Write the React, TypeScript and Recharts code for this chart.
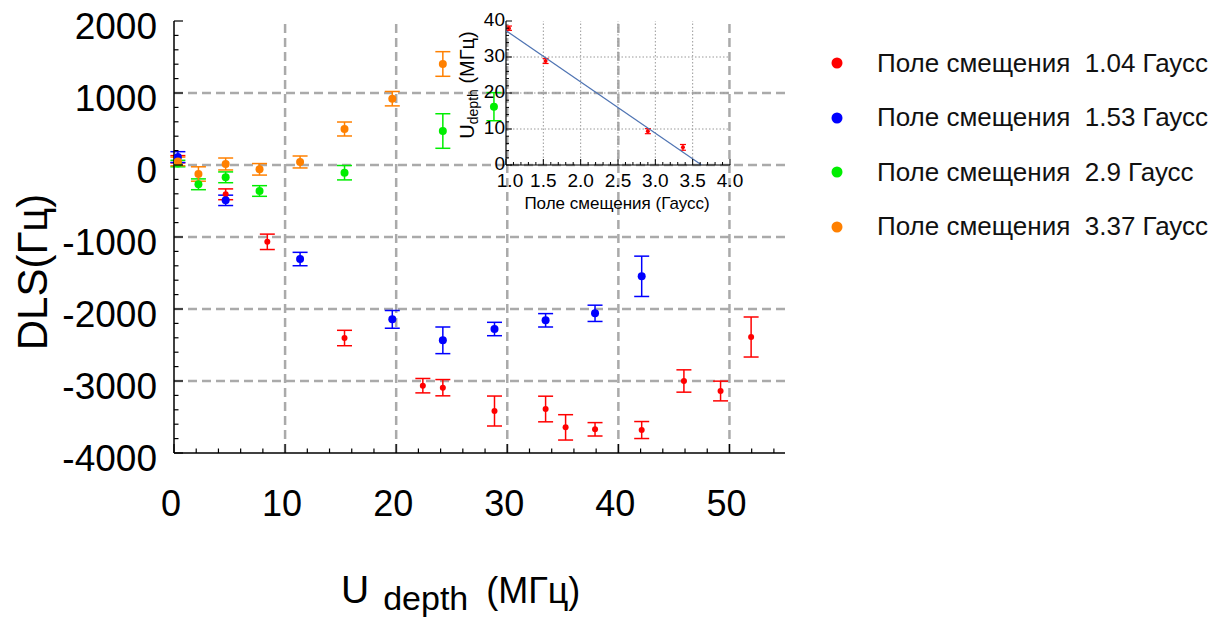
import React from "react";
import { ScatterChart, Scatter, XAxis, YAxis, ErrorBar, ReferenceLine, Legend, Label } from "recharts";

// series: x = U_depth (MHz), y = DLS (Hz), e = error
const red = [
  { x: 0.35, y: 80, e: 50 },
  { x: 4.65, y: -407, e: 75 },
  { x: 8.4, y: -1067, e: 107 },
  { x: 15.35, y: -2403, e: 107 },
  { x: 22.4, y: -3065, e: 100 },
  { x: 24.2, y: -3093, e: 113 },
  { x: 28.85, y: -3417, e: 208 },
  { x: 33.45, y: -3389, e: 178 },
  { x: 35.25, y: -3644, e: 176 },
  { x: 37.9, y: -3671, e: 93 },
  { x: 42.1, y: -3681, e: 118 },
  { x: 45.9, y: -3000, e: 155 },
  { x: 49.2, y: -3139, e: 137 },
  { x: 51.95, y: -2389, e: 278 },
];
const blue = [
  { x: 0.35, y: 110, e: 75 },
  { x: 4.65, y: -491, e: 72 },
  { x: 11.35, y: -1306, e: 93 },
  { x: 19.65, y: -2144, e: 123 },
  { x: 24.2, y: -2435, e: 185 },
  { x: 28.85, y: -2278, e: 93 },
  { x: 33.45, y: -2157, e: 93 },
  { x: 37.9, y: -2060, e: 113 },
  { x: 42.1, y: -1546, e: 280 },
];
const green = [
  { x: 0.35, y: 20, e: 45 },
  { x: 2.2, y: -268, e: 75 },
  { x: 4.65, y: -171, e: 75 },
  { x: 7.7, y: -361, e: 74 },
  { x: 15.35, y: -107, e: 100 },
  { x: 24.2, y: 472, e: 240 },
  { x: 28.8, y: 810, e: 195 },
];
const orange = [
  { x: 0.35, y: 50, e: 60 },
  { x: 2.2, y: -125, e: 100 },
  { x: 4.65, y: 14, e: 83 },
  { x: 7.7, y: -60, e: 80 },
  { x: 11.35, y: 42, e: 83 },
  { x: 15.35, y: 500, e: 97 },
  { x: 19.65, y: 921, e: 100 },
  { x: 24.2, y: 1403, e: 171 },
];

const seriesNames = [
  "Поле смещения  1.04 Гаусс",
  "Поле смещения  1.53 Гаусс",
  "Поле смещения  2.9 Гаусс",
  "Поле смещения  3.37 Гаусс",
];
const seriesColors = ["#ff0000", "#0000ff", "#00ee00", "#ff8000"];
const seriesData = [red, blue, green, orange];
const dotRadius = [3, 4, 4, 4];

const xMajor = [0, 10, 20, 30, 40, 50];
const xTicks = [0, 2, 4, 6, 8, 10, 12, 14, 16, 18, 20, 22, 24, 26, 28, 30, 32, 34, 36, 38, 40, 42, 44, 46, 48, 50, 52, 54];
const yMajor = [-4000, -3000, -2000, -1000, 0, 1000, 2000];
const yTicks = [
  -4000, -3800, -3600, -3400, -3200, -3000, -2800, -2600, -2400, -2200, -2000, -1800, -1600, -1400, -1200,
  -1000, -800, -600, -400, -200, 0, 200, 400, 600, 800, 1000, 1200, 1400, 1600, 1800, 2000,
];
const xGrid = [10, 20, 30, 40, 50];
const yGrid = [-3000, -2000, -1000, 0, 1000];

// inset: bias field (G) vs U_depth (MHz)
const insetPoints = [
  { x: 1.04, y: 38.0, e: 0.6 },
  { x: 1.53, y: 28.9, e: 0.7 },
  { x: 2.9, y: 9.4, e: 0.7 },
  { x: 3.37, y: 4.9, e: 0.8 },
];
const insetFit = [
  { x: 1.0, y: 37.3 },
  { x: 3.62, y: 0 },
];
const insetXMajor = [1.0, 1.5, 2.0, 2.5, 3.0, 3.5, 4.0];
const insetXTicks = [
  1.0, 1.1, 1.2, 1.3, 1.4, 1.5, 1.6, 1.7, 1.8, 1.9, 2.0, 2.1, 2.2, 2.3, 2.4, 2.5, 2.6, 2.7, 2.8, 2.9, 3.0,
  3.1, 3.2, 3.3, 3.4, 3.5, 3.6, 3.7, 3.8, 3.9, 4.0,
];
const insetYMajor = [0, 10, 20, 30, 40];
const insetYTicks = [0, 2, 4, 6, 8, 10, 12, 14, 16, 18, 20, 22, 24, 26, 28, 30, 32, 34, 36, 38, 40];
const insetXGrid = [1.5, 2.0, 2.5, 3.0, 3.5];
const insetYGrid = [10, 20, 30];

const FONT = "'Liberation Sans', Arial, sans-serif";
const isIn = (arr: number[], v: number) => arr.some((a) => Math.abs(a - v) < 1e-6);

const BottomTick = (p: any) => {
  const v = p.payload.value;
  const major = isIn(xMajor, v);
  return (
    <g>
      <line x1={p.x} y1={p.y} x2={p.x} y2={p.y - (major ? 9 : 4.5)} stroke="#000" strokeWidth={1.2} />
      {major && (
        <text x={p.x - 3} y={p.y + 63} textAnchor="middle" fontSize={36} fill="#000" fontFamily={FONT}>
          {v}
        </text>
      )}
    </g>
  );
};
const TopTick = (p: any) => {
  const major = isIn(xMajor, p.payload.value);
  return <line x1={p.x} y1={p.y} x2={p.x} y2={p.y + (major ? 9 : 4.5)} stroke="#000" strokeWidth={1.2} />;
};
const LeftTick = (p: any) => {
  const v = p.payload.value;
  const major = isIn(yMajor, v);
  return (
    <g>
      <line x1={p.x} y1={p.y} x2={p.x + (major ? 9 : 4.5)} y2={p.y} stroke="#000" strokeWidth={1.2} />
      {major && (
        <text x={p.x - 17} y={p.y + 18} textAnchor="end" fontSize={37} fill="#000" fontFamily={FONT}>
          {v}
        </text>
      )}
    </g>
  );
};
const RightTick = (p: any) => {
  const major = isIn(yMajor, p.payload.value);
  return <line x1={p.x} y1={p.y} x2={p.x - (major ? 9 : 4.5)} y2={p.y} stroke="#000" strokeWidth={1.2} />;
};

const InsetBottomTick = (p: any) => {
  const v = p.payload.value;
  const major = isIn(insetXMajor, v);
  return (
    <g>
      <line x1={p.x} y1={p.y} x2={p.x} y2={p.y - (major ? 6 : 3)} stroke="#000" strokeWidth={1} />
      {major && (
        <text x={p.x + (v === 1 ? 4 : 0)} y={p.y + 22} textAnchor="middle" fontSize={19} fill="#000" fontFamily={FONT}>
          {v.toFixed(1)}
        </text>
      )}
    </g>
  );
};
const InsetTopTick = (p: any) => {
  const major = isIn(insetXMajor, p.payload.value);
  return <line x1={p.x} y1={p.y} x2={p.x} y2={p.y + (major ? 6 : 3)} stroke="#000" strokeWidth={1} />;
};
const InsetLeftTick = (p: any) => {
  const v = p.payload.value;
  const major = isIn(insetYMajor, v);
  return (
    <g>
      <line x1={p.x} y1={p.y} x2={p.x + (major ? 6 : 3)} y2={p.y} stroke="#000" strokeWidth={1} />
      {major && (
        <text x={p.x - 1} y={p.y + 5} textAnchor="end" fontSize={19} fill="#000" fontFamily={FONT}>
          {v}
        </text>
      )}
    </g>
  );
};
const InsetRightTick = (p: any) => {
  const major = isIn(insetYMajor, p.payload.value);
  return <line x1={p.x} y1={p.y} x2={p.x - (major ? 6 : 3)} y2={p.y} stroke="#000" strokeWidth={1} />;
};

const LegendBox = () => (
  <div style={{ fontFamily: FONT, fontSize: 26, color: "#111" }}>
    {seriesNames.map((name, i) => (
      <div key={name} style={{ height: 54.5, display: "flex", alignItems: "center", whiteSpace: "pre" }}>
        <svg width={51} height={14}>
          <circle cx={11} cy={7} r={5.5} fill={seriesColors[i]} />
        </svg>
        <span>{name}</span>
      </div>
    ))}
  </div>
);

const XTitle = () => (
  <text x={341} y={603} fontSize={39} fill="#000" fontFamily={FONT}>
    U
    <tspan fontSize={34} dx={14} dy={7}>depth</tspan>
    <tspan fontSize={36} dx={18} dy={-7}>(МГц)</tspan>
  </text>
);
const YTitle = () => (
  <text transform="translate(47,272) rotate(-90)" textAnchor="middle" fontSize={42} fill="#000" fontFamily={FONT}>
    DLS(Гц)
  </text>
);
const InsetXTitle = () => (
  <text x={191} y={209} textAnchor="middle" fontSize={17} fill="#000" fontFamily={FONT}>
    Поле смещения (Гаусс)
  </text>
);
const InsetYTitle = () => (
  <text transform="translate(48,85) rotate(-90)" textAnchor="middle" fontSize={20} fill="#000" fontFamily={FONT}>
    U<tspan fontSize={14} dy={4}>depth</tspan>
    <tspan dy={-4}> (МГц)</tspan>
  </text>
);

function MainChart() {
  return (
    <ScatterChart width={1225} height={618} margin={{ top: 21, right: 440, bottom: 0, left: 0 }}>
      <XAxis
        type="number"
        dataKey="x"
        domain={[0, 55]}
        ticks={xTicks}
        interval={0}
        height={165}
        tickSize={0}
        tickMargin={0}
        tick={<BottomTick />}
        axisLine={{ stroke: "#000", strokeWidth: 1.5 }}
        allowDataOverflow
      >
        <Label content={<XTitle />} />
      </XAxis>
      <XAxis
        xAxisId="top"
        orientation="top"
        type="number"
        domain={[0, 55]}
        ticks={xTicks}
        interval={0}
        height={0}
        tickSize={0}
        tickMargin={0}
        tick={<TopTick />}
        axisLine={{ stroke: "#000", strokeWidth: 1.5 }}
        allowDataOverflow
      />
      <YAxis
        type="number"
        dataKey="y"
        domain={[-4000, 2000]}
        ticks={yTicks}
        interval={0}
        width={174}
        tickSize={0}
        tickMargin={0}
        tick={<LeftTick />}
        axisLine={{ stroke: "#000", strokeWidth: 1.5 }}
        allowDataOverflow
      >
        <Label content={<YTitle />} />
      </YAxis>
      <YAxis
        yAxisId="right"
        orientation="right"
        type="number"
        domain={[-4000, 2000]}
        ticks={yTicks}
        interval={0}
        width={0}
        tickSize={0}
        tickMargin={0}
        tick={<RightTick />}
        axisLine={{ stroke: "#000", strokeWidth: 1.5 }}
        allowDataOverflow
      />
      {xGrid.map((v) => (
        <ReferenceLine key={"gx" + v} x={v} stroke="#aaaaaa" strokeWidth={2.5} strokeDasharray="9 5" />
      ))}
      {yGrid.map((v) => (
        <ReferenceLine key={"gy" + v} y={v} stroke="#aaaaaa" strokeWidth={2.5} strokeDasharray="9 5" />
      ))}
      {seriesData.map((d, i) => (
        <Scatter
          key={seriesNames[i]}
          name={seriesNames[i]}
          data={d}
          fill={seriesColors[i]}
          isAnimationActive={false}
          shape={(p: any) => <circle cx={p.cx} cy={p.cy} r={dotRadius[i]} fill={seriesColors[i]} />}
        >
          <ErrorBar dataKey="e" direction="y" width={7.5} stroke={seriesColors[i]} strokeWidth={1.5} />
        </Scatter>
      ))}
      <Legend
        layout="vertical"
        align="center"
        verticalAlign="middle"
        content={<LegendBox />}
        wrapperStyle={{ left: 826, top: 36, width: 399, height: 230 }}
      />
    </ScatterChart>
  );
}

function InsetChart() {
  return (
    <ScatterChart width={330} height={230} margin={{ top: 21, right: 26, bottom: 0, left: 0 }}>
      <XAxis
        type="number"
        dataKey="x"
        domain={[1, 4]}
        ticks={insetXTicks}
        interval={0}
        height={65}
        tickSize={0}
        tickMargin={0}
        tick={<InsetBottomTick />}
        axisLine={{ stroke: "#000", strokeWidth: 1.2 }}
        allowDataOverflow
      >
        <Label content={<InsetXTitle />} />
      </XAxis>
      <XAxis
        xAxisId="top"
        orientation="top"
        type="number"
        domain={[1, 4]}
        ticks={insetXTicks}
        interval={0}
        height={0}
        tickSize={0}
        tickMargin={0}
        tick={<InsetTopTick />}
        axisLine={{ stroke: "#000", strokeWidth: 1.2 }}
        allowDataOverflow
      />
      <YAxis
        type="number"
        dataKey="y"
        domain={[0, 40]}
        ticks={insetYTicks}
        interval={0}
        width={80}
        tickSize={0}
        tickMargin={0}
        tick={<InsetLeftTick />}
        axisLine={{ stroke: "#000", strokeWidth: 1.2 }}
        allowDataOverflow
      >
        <Label content={<InsetYTitle />} />
      </YAxis>
      <YAxis
        yAxisId="right"
        orientation="right"
        type="number"
        domain={[0, 40]}
        ticks={insetYTicks}
        interval={0}
        width={0}
        tickSize={0}
        tickMargin={0}
        tick={<InsetRightTick />}
        axisLine={{ stroke: "#000", strokeWidth: 1.2 }}
        allowDataOverflow
      />
      {insetXGrid.map((v) => (
        <ReferenceLine key={"ix" + v} x={v} stroke="#999" strokeWidth={1} strokeDasharray="1.5 2" />
      ))}
      {insetYGrid.map((v) => (
        <ReferenceLine key={"iy" + v} y={v} stroke="#999" strokeWidth={1} strokeDasharray="1.5 2" />
      ))}
      <Scatter
        data={insetFit}
        line={{ stroke: "#4f74b3", strokeWidth: 1.2 }}
        shape={() => <g />}
        isAnimationActive={false}
      />
      <Scatter
        data={insetPoints}
        fill="#ff0000"
        isAnimationActive={false}
        shape={(p: any) => <circle cx={p.cx} cy={p.cy} r={2} fill="#ff0000" />}
      >
        <ErrorBar dataKey="e" direction="y" width={3} stroke="#ff0000" strokeWidth={1.2} />
      </Scatter>
    </ScatterChart>
  );
}

export default function App() {
  return (
    <div style={{ position: "absolute", left: 0, top: 0, width: 1225, height: 618, background: "#fff", fontFamily: FONT }}>
      <MainChart />
      <div style={{ position: "absolute", left: 426, top: 0 }}>
        <InsetChart />
      </div>
    </div>
  );
}
